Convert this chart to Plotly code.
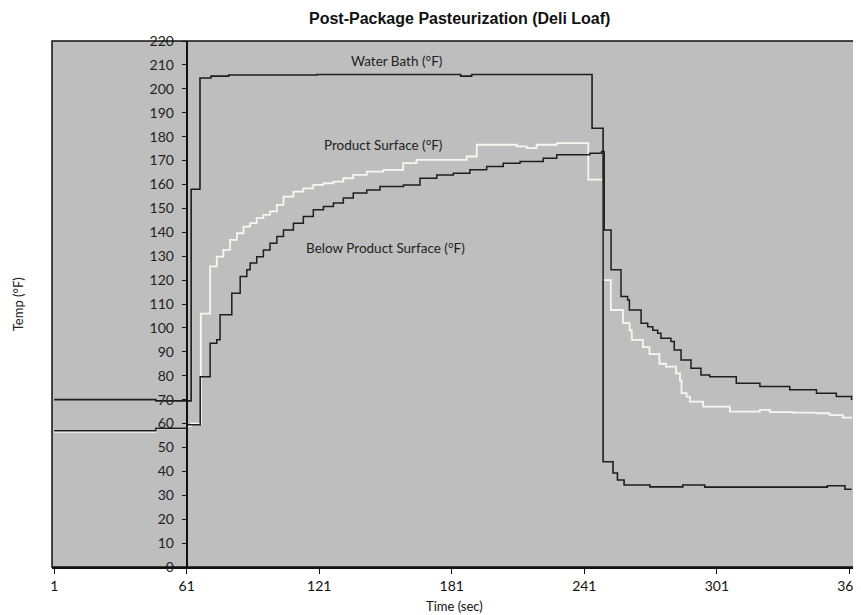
import plotly.graph_objects as go

# ---- data ----
water_t = [1, 47, 63, 67, 72, 80, 120, 185, 190, 244.5, 249.5, 254, 256, 259, 270.7, 285.6, 295.5, 351, 359, 362]
water_v = [70, 69.5, 158, 204.5, 205.3, 205.8, 206, 205.3, 206, 183.5, 44, 39.3, 36.4, 34.3, 33.5, 34.3, 33.4, 34, 32.5, 32.5]

prod_t = [1, 47, 61, 63, 67.4, 71.6, 74.6, 77.6, 80.6, 83.7, 86.7, 89.7, 92.7, 95.7, 98.7, 101.8, 104.8,
          109.3, 113.8, 118.3, 122.9, 127.4, 131.9, 136.4, 142.5, 150, 159, 165, 187.7, 192.3, 210.4,
          214.9, 219.4, 228.5, 242.8, 249.5, 253, 258.5, 261.5, 262.5, 267.5, 270.5, 275, 278, 282.5,
          284.3, 285, 287.3, 288.8, 294.8, 306.9, 320.5, 325, 335.5, 346, 352, 358, 362]
prod_v = [56.5, 58, 59, 60, 106, 125.7, 129.8, 132.6, 136.8, 139.6, 142.4, 143.8, 145.9, 147.3, 148.7, 151.5, 154.9,
          157.0, 158.4, 159.8, 160.5, 161.2, 162.6, 164.0, 165.4, 166.1, 168.9, 170.3, 171.7, 176.6, 175.9,
          175.2, 176.6, 177.3, 162, 120, 107.5, 102, 99, 95, 92, 89, 85, 83.8, 81,
          78, 72.7, 71.3, 69.2, 67.1, 65.0, 65.7, 64.8, 64.6, 64.3, 63.5, 62.5, 62.2]

below_t = [1, 47, 61, 67.1, 71.6, 74.6, 76.1, 81.4, 85.2, 88.2, 89.7, 92.7, 95.7, 98.7, 101.8, 104.8, 109.3,
           113.8, 118.3, 122.9, 127.4, 131.9, 136.4, 142.5, 148.5, 159.1, 166.6, 174.2, 181.7, 189.2, 196.8,
           204.3, 211.9, 222.4, 228.5, 243.5, 248.8, 250, 253.1, 257.6, 260.6, 261.4, 266.7, 269.7, 272,
           274.2, 275.7, 280.2, 281.7, 284.8, 289.3, 293.8, 297.8, 309.8, 320.5, 334, 346.1, 355.1, 362]
below_v = [57, 58, 59.5, 79.6, 93.6, 95.0, 105.5, 114.5, 121.5, 124.3, 127.1, 129.8, 132.6, 135.4, 138.2, 141.0, 143.8,
           146.6, 149.4, 150.8, 152.2, 154.3, 156.4, 157.7, 159.1, 159.8, 162.6, 164.0, 164.7, 166.1, 167.5,
           168.9, 169.6, 171.0, 172.4, 173.1, 173.8, 141, 124.3, 113.1, 111.7, 107.5, 102, 100.5, 99,
           97.8, 95.7, 94.3, 90.8, 86.6, 83.1, 80.3, 79.6, 76.9, 75.5, 74.1, 72.7, 71.3, 69.9]

x_ticks = [1, 61, 121, 181, 241, 301, 361]
y_ticks = list(range(0, 221, 10))

series_labels = ["Water Bath (°F)", "Product Surface (°F)", "Below Product Surface (°F)"]
label_x = [156, 150, 151]
label_y = [211.5, 176.5, 133.5]

X_RANGE = [0, 364]
Y_RANGE = [0, 220]
AXIS_AT = 61

fig = go.Figure()
fig.add_trace(go.Scatter(x=prod_t, y=prod_v, mode="lines", line=dict(color="#f7f7f2", width=1.8, shape="hv"),
                         name=series_labels[1]))
fig.add_trace(go.Scatter(x=below_t, y=below_v, mode="lines", line=dict(color="#1e1e1e", width=1.5, shape="hv"),
                         name=series_labels[2]))
fig.add_trace(go.Scatter(x=water_t, y=water_v, mode="lines", line=dict(color="#1e1e1e", width=1.6, shape="hv"),
                         name=series_labels[0]))

label_font = dict(family="Lato, Open Sans, sans-serif", size=13.5, color="#222")
for txt, lx, ly in zip(series_labels, label_x, label_y):
    fig.add_annotation(x=lx, y=ly, text=txt, showarrow=False, font=label_font, xanchor="center", yanchor="middle")

# axis titles and chart title placed in paper coordinates
fig.add_annotation(xref="paper", yref="paper", x=-0.042, y=0.5, text="Temp (°F)", textangle=-90, showarrow=False,
                   font=dict(family="Lato, sans-serif", size=13, color="#222"), xanchor="center", yanchor="middle")
fig.add_annotation(xref="paper", yref="paper", x=0.5, y=-0.074, text="Time (sec)", showarrow=False,
                   font=dict(family="Lato, sans-serif", size=13, color="#111"), xanchor="center", yanchor="middle")
fig.add_annotation(xref="paper", yref="paper", x=0.507, y=1.042, text="<b>Post-Package Pasteurization (Deli Loaf)</b>",
                   showarrow=False, font=dict(family="Liberation Sans, Arial, sans-serif", size=16, color="#111"),
                   xanchor="center", yanchor="middle")

fig.add_shape(type="rect", xref="paper", yref="paper", x0=0, y0=0, x1=1, y1=1,
              line=dict(color="#111", width=1.5), layer="above")

# the page body adds an 8px offset, so the figure is sized/margined to compensate
fig.update_layout(
    width=852, height=606,
    margin=dict(l=44, r=4, t=33, b=47, autoexpand=False),
    paper_bgcolor="white",
    plot_bgcolor="#bebebe",
    showlegend=False,
    xaxis=dict(range=X_RANGE, tickvals=x_ticks, ticktext=[str(v) for v in x_ticks], showgrid=False, zeroline=False,
               ticks="outside", ticklen=5, tickcolor="#111", showline=True, linecolor="#111", linewidth=1.5,
               automargin=False, ticklabeloverflow="allow",
               tickfont=dict(family="Lato, sans-serif", size=14, color="#111")),
    yaxis=dict(range=Y_RANGE, tickvals=y_ticks, showgrid=False, zeroline=False,
               anchor="free", position=(AXIS_AT - X_RANGE[0]) / (X_RANGE[1] - X_RANGE[0]), side="left",
               ticks="outside", ticklen=4, tickcolor="#111", showline=True, linecolor="#111", linewidth=2,
               ticklabelstandoff=5, automargin=False,
               tickfont=dict(family="Lato, sans-serif", size=14, color="#222")),
)

fig.write_html("out.html")
